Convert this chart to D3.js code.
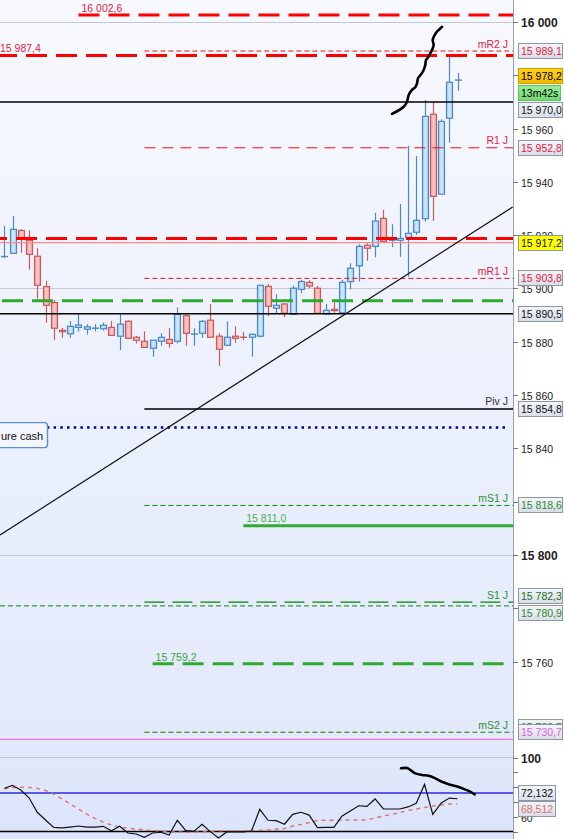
<!DOCTYPE html>
<html><head><meta charset="utf-8">
<script src="https://cdn.jsdelivr.net/npm/d3@7"></script>
<style>html,body{margin:0;padding:0;background:#fff;}svg{display:block;font-family:"Liberation Sans",Arial,sans-serif;}</style>
</head><body><svg id="c" width="564" height="839"></svg>
<script>
// ---------- DATA ----------
const opens  = [15911.9,15913.2,15921.8,15918.1,15912.1,15900.7,15894.7,15884.3,15883.0,15885.4,15884.7,15885.1,15884.9,15885.4,15882.1,15887.7,15881.7,15880.2,15877.6,15880.2,15880.9,15880.2,15889.8,15882.8,15883.2,15888.1,15882.1,15878.7,15882.1,15881.7,15881.7,15882.1,15900.8,15892.6,15894.2,15890.3,15899.7,15902.3,15900.1,15890.4,15892.2,15890.9,15902.6,15908.5,15916.2,15915.8,15926.3,15918.1,15918.1,15919.2,15921.1,15926.2,15965.4,15935.4,15963.9,15978.0];
const highs  = [15923.5,15927.2,15922.2,15921.8,15915.1,15902.8,15895.7,15885.2,15887.8,15890.5,15886.6,15886.6,15887.2,15887.8,15890.5,15888.0,15882.2,15883.9,15880.6,15883.2,15885.1,15892.9,15890.7,15885.1,15888.1,15894.1,15883.2,15887.7,15885.8,15883.6,15883.2,15901.2,15901.6,15897.8,15894.5,15901.1,15903.3,15903.1,15900.9,15894.2,15894.8,15903.3,15909.5,15916.6,15917.0,15928.4,15929.5,15924.1,15931.7,15953.5,15949.7,15970.7,15969.9,15963.5,15987.6,15980.9];
const lows   = [15911.4,15913.2,15913.4,15907.1,15896.2,15887.2,15880.6,15881.5,15881.5,15883.8,15882.7,15883.9,15884.2,15882.4,15876.9,15881.0,15879.4,15877.9,15874.4,15878.5,15877.8,15879.4,15878.5,15878.5,15881.5,15881.7,15871.0,15878.7,15879.7,15880.6,15874.4,15881.7,15889.6,15890.7,15889.2,15890.3,15898.2,15900.1,15890.7,15890.4,15890.9,15890.9,15899.7,15902.6,15910.4,15911.7,15917.7,15915.5,15911.9,15904.4,15920.1,15925.1,15925.4,15935.4,15954.7,15974.2];
const closes = [15912.0,15922.2,15919.1,15912.8,15901.2,15893.7,15885.1,15883.8,15885.8,15886.3,15885.6,15885.1,15886.2,15882.4,15886.6,15881.3,15880.6,15877.9,15880.6,15881.7,15879.4,15890.3,15883.2,15882.9,15887.7,15881.7,15877.2,15881.7,15881.3,15881.3,15882.8,15901.2,15893.3,15893.7,15890.7,15900.1,15902.6,15900.9,15890.7,15891.8,15891.7,15902.3,15907.6,15915.8,15915.1,15925.3,15917.7,15918.8,15918.8,15920.7,15925.6,15964.6,15934.6,15962.7,15977.4,15978.2];

const rsi   = [79.2,81.2,78.0,72.8,63.0,57.8,52.8,52.4,53.0,53.7,53.0,53.0,53.5,50.5,53.5,49.0,48.3,46.1,49.0,49.5,47.6,57.6,50.8,50.1,54.9,49.9,45.6,49.7,49.7,49.7,50.3,65.0,57.6,57.3,54.9,61.6,63.0,61.1,52.6,52.8,52.8,60.5,63.9,67.4,67.0,72.0,65.2,65.2,65.2,66.6,69.1,81.9,61.6,69.1,72.6,72.132];
const rsiMA = [78.7,79.6,79.9,79.7,79.1,77.7,75.3,72.0,68.6,65.2,61.8,58.8,56.4,54.4,53.0,52.2,51.7,51.0,50.7,50.3,49.9,49.7,49.5,49.5,49.7,50.0,50.5,50.5,50.5,50.5,50.7,50.8,51.0,51.5,52.0,53.7,54.7,56.1,57.4,57.6,57.6,57.7,57.8,57.8,57.8,59.1,60.5,61.5,62.8,64.2,65.2,66.2,67.2,67.9,68.6,68.512];
const rsiLevels = [76, 50];

// horizontal levels
const levelValues = [16002.6,15987.4,15989.1,15970.0,15952.8,15918.8,15917.2,15903.8,15895.4,15890.5,15854.8,15847.8,15818.6,15811.0,15782.3,15780.9,15759.2,15733.5,15730.7];
const levelNames  = ["16 002,6","15 987,4","mR2 J","","R1 J","","","mR1 J","","","Piv J","ure cash","mS1 J","15 811,0","S1 J","","15 759,2","mS2 J",""];
const levelFrom   = [9,null,17,null,17,null,null,17,null,null,17,null,17,29,17,null,18,17,null];
const levelTo     = [null,null,null,null,null,null,null,null,null,null,null,61.25,null,null,null,null,60.65,null,null];
const levelKind   = ["redThick","redThick","redFine","black","redMid","redThick","salmon","redFine","greenThick","black","black","navyDot","greenFine","greenSolid","greenLong","greenFine","greenThick","greenFine","pink"];
const levelHasBox = [false,false,true,true,true,false,true,true,false,true,true,false,true,false,true,true,false,true,true];

const priceTicks = [16000,15980,15960,15940,15920,15900,15880,15860,15840,15820,15800,15780,15760];
const priceTickLabels = [16000,15960,15940,15920,15900,15880,15860,15840,15800,15760];
const boldTicks = [16000,15800];
const gridPrices = [16000,15900,15800];
const rsiTicks = [100,90,80,70,60,50];
const rsiTickLabels = [100,60];
const countdown = "13m42s";

const trendIdx = [-0.52, 61.7];
const trendVal = [15807.5, 15930.6];

const squiggleIdx = [47.05,48.47,48.87,49.08,49.48,49.88,50.09,50.21,50.61,50.90,51.09,51.18,51.50,51.70,51.91,52.11,51.99,52.23,52.51,52.72,53.12];
const squiggleVal = [15965.5,15968.2,15970.1,15972.6,15974.5,15975.5,15977.0,15978.9,15980.5,15982.0,15983.9,15985.7,15987.0,15988.3,15989.5,15991.4,15993.2,15995.1,15996.4,15997.0,15998.2];
const rsiSquigIdx = [48.14,48.87,49.27,49.88,50.69,51.50,52.31,53.12,53.93,54.73,55.55,56.36,57.09];
const rsiSquigVal = [92.7,92.9,91.6,89.3,88.2,87.7,85.9,83.6,81.9,80.7,79.2,77.4,75.1];

// ---------- STYLES ----------
const S = {
  redThick:  {stroke:"#ff0000", w:3,   dash:"21,9", text:"#e8203c", boxText:"#e8203c"},
  redFine:   {stroke:"#ee1111", w:1,   dash:"5,3",  text:"#e8203c", boxText:"#e8203c"},
  redMid:    {stroke:"#ee1111", w:1,   dash:"11,7", text:"#e8203c", boxText:"#e8203c"},
  black:     {stroke:"#000000", w:1.4, dash:null,   text:"#333333", boxText:"#111111"},
  salmon:    {stroke:"#ff8a8a", w:1.3, dash:null,   text:"#111",    boxText:"#111111", boxFill:"#ffff00"},
  greenThick:{stroke:"#2eab2e", w:3,   dash:"21,9", text:"#3aa63a", boxText:"#2a8a2a"},
  navyDot:   {stroke:"#00009a", w:2.5, dash:"2.5,4.2", text:"#111", boxText:"#111"},
  greenFine: {stroke:"#0a860a", w:1,   dash:"5,3",  text:"#2e8f2e", boxText:"#2a8a2a"},
  greenSolid:{stroke:"#33aa33", w:3,   dash:null,   text:"#4cb04c", boxText:"#2a8a2a"},
  greenLong: {stroke:"#0a860a", w:1.4, dash:"20,8", text:"#2e8f2e", boxText:"#1d6e1d"},
  pink:      {stroke:"#ee72ee", w:2,   dash:null,   text:"#e060e0", boxText:"#e060e0"}
};
const dashOffsets = {0:0, 1:4, 5:-16, 8:-2, 16:0};

// ---------- SETUP ----------
const W = 564, H = 839, plotR = 513, mainTop = 0, mainBottom = 740, rsiTop = 741;
const svg = d3.select("#c");
const defs = svg.append("defs");
function grad(id, stops, horiz){
  const g = defs.append("linearGradient").attr("id", id).attr("x1",0).attr("y1",0)
    .attr("x2", horiz?1:0).attr("y2", horiz?0:1);
  stops.forEach(s => g.append("stop").attr("offset", s[0]).attr("stop-color", s[1]));
}
grad("bg", [[0,"#f8f9fe"],[0.45,"#edf1fd"],[0.88,"#e2e9fb"],[1,"#dbe4fb"]]);
grad("upF", [[0,"#9ccbf3"],[0.5,"#d3e9fd"],[1,"#a3cff5"]], true);
grad("dnF", [[0,"#f49999"],[0.5,"#fdcaca"],[1,"#f5a0a0"]], true);
grad("boxG", [[0,"#f3f5f9"],[1,"#d9dee8"]]);
grad("priceG", [[0,"#ffd21a"],[1,"#f4b800"]]);
grad("cdG", [[0,"#9cee9c"],[1,"#6fd86f"]]);
defs.append("clipPath").attr("id","clipMain").append("rect").attr("x",0).attr("y",mainTop).attr("width",plotR).attr("height",mainBottom-mainTop);
defs.append("clipPath").attr("id","clipRsi").append("rect").attr("x",0).attr("y",rsiTop).attr("width",plotR).attr("height",H-rsiTop);

svg.append("rect").attr("width",W).attr("height",H).attr("fill","#fff");
svg.append("rect").attr("width",plotR).attr("height",H).attr("fill","url(#bg)");

const x = d3.scaleLinear().domain([0,55]).range([4.3,457.5]);
const y = d3.scaleLinear().domain([15730,16000]).range([741.55,22]);
const yR = d3.scaleLinear().domain([50,100]).range([831.5,757.5]);
const loc = d3.formatLocale({decimal:",", thousands:" ", grouping:[3], currency:["",""]});
const f1 = loc.format(",.1f"), f0 = loc.format(",.0f"), f3 = loc.format(".3f");

const main = svg.append("g").attr("clip-path","url(#clipMain)");
const rsiG = svg.append("g").attr("clip-path","url(#clipRsi)");

// gridlines
main.selectAll("line.grid").data(gridPrices).join("line")
  .attr("x1",0).attr("x2",plotR).attr("y1",d=>Math.round(y(d))+0.5).attr("y2",d=>Math.round(y(d))+0.5)
  .attr("stroke","#c3c9d5").attr("stroke-width",1.2);
rsiG.append("line").attr("x1",0).attr("x2",plotR).attr("y1",Math.round(yR(100))-0.5).attr("y2",Math.round(yR(100))-0.5)
  .attr("stroke","#c3c9d5").attr("stroke-width",1.2);

// candles
const cg = main.append("g");
d3.range(opens.length).forEach(i => {
  const up = closes[i] >= opens[i];
  const col = up ? "#4a88c6" : "#c85a5a";
  const cx = Math.round(x(i)) + 0.5;
  cg.append("line").attr("x1",cx).attr("x2",cx).attr("y1",y(highs[i])).attr("y2",y(lows[i]))
    .attr("stroke",col).attr("stroke-width",1.2);
  const top = y(Math.max(opens[i],closes[i])), bot = y(Math.min(opens[i],closes[i]));
  const hgt = bot - top;
  if (hgt < 1.2) {
    cg.append("line").attr("x1",cx-3.5).attr("x2",cx+3.5).attr("y1",top).attr("y2",top)
      .attr("stroke",col).attr("stroke-width",1.4);
  } else {
    cg.append("rect").attr("x",cx-3).attr("y",top).attr("width",6).attr("height",hgt)
      .attr("fill", up ? "url(#upF)" : "url(#dnF)").attr("stroke",col).attr("stroke-width",1.2);
  }
});

// level lines
const lg = main.append("g");
levelValues.forEach((v,k) => {
  const st = S[levelKind[k]];
  const x1 = levelFrom[k] == null ? 0 : x(levelFrom[k]);
  const x2 = levelTo[k] == null ? plotR : x(levelTo[k]);
  const yy = y(v);
  const ln = lg.append("line").attr("x1",x1).attr("x2",x2).attr("y1",yy).attr("y2",yy)
    .attr("stroke",st.stroke).attr("stroke-width",st.w);
  if (st.dash) ln.attr("stroke-dasharray",st.dash).attr("stroke-dashoffset", dashOffsets[k] || 0);
  const name = levelNames[k];
  if (!name) return;
  if (levelKind[k] === "navyDot") {
    lg.append("rect").attr("x",-10).attr("y",yy-5).attr("width",57.5).attr("height",25).attr("rx",3)
      .attr("fill","#f3f6fe").attr("stroke","#5b8de6").attr("stroke-width",1.4);
    lg.append("text").attr("x",1).attr("y",yy+12.5)
      .attr("font-size",11).attr("fill","#111").text(name);
  } else if (/J$/.test(name)) {
    lg.append("text").attr("x",508).attr("y",yy-3.5).attr("text-anchor","end")
      .attr("font-size",10.5).attr("fill",st.text).text(name);
  } else {
    lg.append("text").attr("x", levelFrom[k]==null ? 0 : x1+3).attr("y",yy-3.2)
      .attr("font-size",10.5).attr("fill",st.text).text(name);
  }
});

// trend line
main.append("line").attr("x1",x(trendIdx[0])).attr("y1",y(trendVal[0]))
  .attr("x2",x(trendIdx[1])).attr("y2",y(trendVal[1])).attr("stroke","#111").attr("stroke-width",1.2);

// hand-drawn squiggle
main.append("path").datum(d3.zip(squiggleIdx, squiggleVal))
  .attr("d", d3.line().x(d=>x(d[0])).y(d=>y(d[1])).curve(d3.curveCatmullRom))
  .attr("fill","none").attr("stroke","#000").attr("stroke-width",2.6).attr("stroke-linecap","round").attr("stroke-linejoin","round");

// RSI pane
rsiG.append("line").attr("x1",0).attr("x2",plotR).attr("y1",yR(rsiLevels[0])).attr("y2",yR(rsiLevels[0]))
  .attr("stroke","#2a2ae0").attr("stroke-width",1.3);
rsiG.append("line").attr("x1",0).attr("x2",plotR).attr("y1",yR(rsiLevels[1])).attr("y2",yR(rsiLevels[1]))
  .attr("stroke","#000").attr("stroke-width",1.5);
rsiG.append("path").datum(rsiMA).attr("d", d3.line().x((d,i)=>x(i)).y(d=>yR(d)))
  .attr("fill","none").attr("stroke","#e07272").attr("stroke-width",1.4).attr("stroke-dasharray","4,4");
rsiG.append("path").datum(rsi).attr("d", d3.line().x((d,i)=>x(i)).y(d=>yR(d)))
  .attr("fill","none").attr("stroke","#111").attr("stroke-width",1.2);
rsiG.append("path").datum(d3.zip(rsiSquigIdx, rsiSquigVal))
  .attr("d", d3.line().x(d=>x(d[0])).y(d=>yR(d[1])).curve(d3.curveCatmullRom))
  .attr("fill","none").attr("stroke","#000").attr("stroke-width",2.6).attr("stroke-linecap","round");

// axis
svg.append("line").attr("x1",plotR+0.5).attr("x2",plotR+0.5).attr("y1",0).attr("y2",H)
  .attr("stroke","#98a2ae").attr("stroke-width",1);
const ax = svg.append("g");
priceTicks.forEach(t => {
  const yy = Math.round(y(t)) + 0.5;
  ax.append("line").attr("x1",plotR).attr("x2",plotR+5).attr("y1",yy).attr("y2",yy).attr("stroke","#777");
  if (!priceTickLabels.includes(t)) return;
  const b = boldTicks.includes(t);
  ax.append("text").attr("x",521).attr("y",yy).attr("dominant-baseline","central")
    .attr("font-size", b?12:10.5).attr("font-weight", b?"bold":"normal").attr("fill","#222").text(f0(t));
});
rsiTicks.forEach(t => {
  const yy = Math.round(yR(t)) + 0.5;
  ax.append("line").attr("x1",plotR).attr("x2",plotR+5).attr("y1",yy).attr("y2",yy).attr("stroke","#777");
  if (rsiTickLabels.includes(t)) {
    const b = t === 100;
    ax.append("text").attr("x",521).attr("y",yy).attr("dominant-baseline","central")
      .attr("font-size", b?12:10.5).attr("font-weight", b?"bold":"normal").attr("fill","#222").text(t);
  }
});

// value boxes with collision layout
function layout(items, gap, minY, maxY){
  items.sort((a,b)=>a.d-b.d);
  let clusters = items.map(it=>[it]);
  function place(cl){
    const offs = []; let acc = 0;
    cl.forEach(it => { offs.push(acc + it.h/2); acc += it.h + gap; });
    const top = d3.mean(cl.map((it,k)=>it.d - offs[k]));
    cl.forEach((it,k)=>{ it.top = top + offs[k] - it.h/2; });
    return {top, bottom: top + acc - gap};
  }
  let changed = true;
  while (changed) {
    changed = false;
    for (let k=0;k<clusters.length-1;k++){
      const a = place(clusters[k]), b = place(clusters[k+1]);
      if (a.bottom + gap > b.top) { clusters.splice(k,2,clusters[k].concat(clusters[k+1])); changed = true; break; }
    }
  }
  clusters.forEach(place);
  items.forEach(it => { it.top = Math.max(minY, Math.min(maxY - it.h, it.top)); });
  return items;
}
const last = closes[closes.length-1];
let boxes = [];
levelValues.forEach((v,k) => {
  if (!levelHasBox[k]) return;
  const st = S[levelKind[k]];
  boxes.push({d:y(v), h:16, w:44, text:f1(v), fill: st.boxFill || "url(#boxG)", color: st.boxText, stroke:"#8d97a6"});
});
boxes.push({d:y(last), h:16, w:44, text:f1(last), fill:"url(#priceG)", color:"#000", stroke:"#c9a000"});
boxes.push({d:y(last)+17, h:16, w:42, text:countdown, fill:"url(#cdG)", color:"#000", stroke:"#5cc45c"});
layout(boxes, 1, 0, mainBottom);
let rboxes = [
  {d:yR(rsi[rsi.length-1]), h:16, w:37, text:f3(rsi[rsi.length-1]), fill:"url(#boxG)", color:"#111", stroke:"#8d97a6"},
  {d:yR(rsiMA[rsiMA.length-1]), h:16, w:37, text:f3(rsiMA[rsiMA.length-1]), fill:"url(#boxG)", color:"#e07070", stroke:"#8d97a6"}
];
layout(rboxes, 0, rsiTop, H);
const bg2 = svg.append("g");
boxes.concat(rboxes).forEach(b => {
  bg2.append("rect").attr("x",518.5).attr("y",Math.round(b.top)+0.5).attr("width",b.w).attr("height",b.h-1)
    .attr("fill",b.fill).attr("stroke",b.stroke).attr("stroke-width",1);
  bg2.append("text").attr("x",521).attr("y",Math.round(b.top)+b.h/2).attr("dominant-baseline","central")
    .attr("font-size",10.5).attr("fill",b.color).text(b.text);
});
</script></body></html>
